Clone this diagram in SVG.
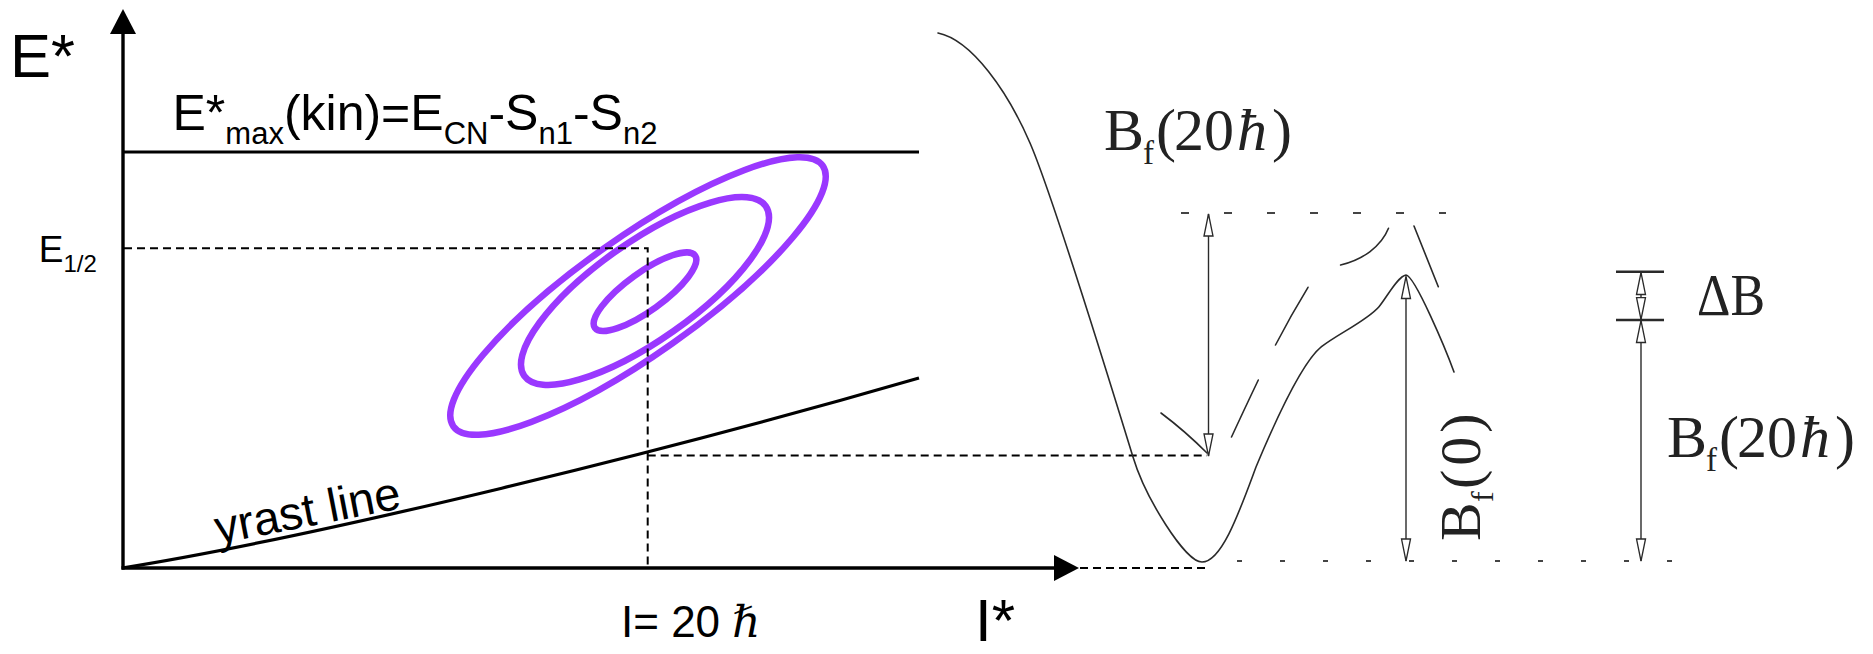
<svg xmlns="http://www.w3.org/2000/svg" width="1873" height="654" viewBox="0 0 1873 654">
<style>
.sans{font-family:"Liberation Sans",Arial,sans-serif;fill:#000}
.serif{font-family:"Liberation Serif","Times New Roman",serif;fill:#222}
.axis{stroke:#000;stroke-width:3.4;fill:none}
.thick{stroke:#000;stroke-width:3.2;fill:none}
.dash{stroke:#000;stroke-width:2;fill:none;stroke-dasharray:8 5}
.ell{fill:none;stroke:#9a38ff;stroke-width:6.5}
.scan{fill:none;stroke:#2a2a2a;stroke-width:1.6;stroke-linecap:round}
.dim{fill:none;stroke:#2a2a2a;stroke-width:1.4;marker-start:url(#oa);marker-end:url(#oa)}
</style>
<defs>
<marker id="oa" viewBox="0 0 24 12" refX="23" refY="6" markerWidth="24" markerHeight="12" markerUnits="userSpaceOnUse" orient="auto-start-reverse">
<path d="M1,1.5 L23,6 L1,10.5 Z" fill="#fff" stroke="#2a2a2a" stroke-width="1.3"/>
</marker>
</defs>
<rect width="1873" height="654" fill="#fff"/>

<g id="axes">
<path class="axis" d="M123,569.5 V32"/>
<polygon points="123,9 110,34 136,34" fill="#000"/>
<path class="axis" d="M121.5,568 H1056"/>
<polygon points="1079,568 1054,555 1054,581" fill="#000"/>
<text class="sans" x="10" y="77" font-size="61.5">E*</text>
<text class="sans" x="975" y="641" font-size="60">I*</text>
</g>

<g id="emax-line">
<path class="thick" d="M123,152 H919"/>
<text class="sans" x="172.5" y="130" font-size="50">E*<tspan font-size="31" dy="14">max</tspan><tspan dy="-14">(kin)=E</tspan><tspan font-size="31" dy="14">CN</tspan><tspan dy="-14">-S</tspan><tspan font-size="31" dy="14">n1</tspan><tspan dy="-14">-S</tspan><tspan font-size="31" dy="14">n2</tspan></text>
</g>

<g id="yrast">
<path class="thick" d="M122,568 C322,536 669,450.5 919,378"/>
<text class="sans" transform="translate(218,544) rotate(-11)" font-size="47">yrast line</text>
</g>

<g id="ellipses">
<ellipse class="ell" cx="638" cy="296" rx="226" ry="58.6" transform="rotate(-35.2 638 296)"/>
<ellipse class="ell" cx="645" cy="291" rx="147.6" ry="49.2" transform="rotate(-35.1 645 291)"/>
<ellipse class="ell" cx="645" cy="291.7" rx="61.8" ry="19" transform="rotate(-35.8 645 291.7)"/>
</g>

<g id="guides">
<path class="dash" d="M124,248.3 H647.7 V567"/>
<path class="dash" d="M647.7,455.5 H1207"/>
<path class="dash" d="M1080,568 H1208"/>
<text class="sans" x="38.8" y="262" font-size="37">E<tspan font-size="24" dy="10">1/2</tspan></text>
<text class="sans" x="621" y="637" font-size="44">I= 20 <tspan font-family="'DejaVu Serif',serif" font-style="italic">ℏ</tspan></text>
</g>

<g id="potential">
<path class="scan" d="M938,33 C972,40 1008,92 1030,143 C1050,189 1113,392 1133,457 C1145,497 1185,562 1202,562 C1222,562 1240,510 1256,467 C1274,424 1301.5,362.7 1321.5,346.7 C1337.5,334 1367,320.7 1379,306.7 C1387,297 1398,276 1406,275 C1415,276 1446,350 1454,372"/>
<path class="scan" d="M1161,413 Q1185,431 1207,453"/>
<path class="scan" d="M1231.5,437 Q1244,410 1258.3,380"/>
<path class="scan" d="M1275.5,345 Q1291,315 1308,287.3"/>
<path class="scan" d="M1340.6,265 C1362,260 1381,247 1388.5,228.3"/>
<path class="scan" d="M1414,226 L1438.3,286.7"/>
<path fill="none" stroke="#444" stroke-width="2" stroke-dasharray="8 35" d="M1181,213 H1446"/>
<path fill="none" stroke="#444" stroke-width="2.2" stroke-dasharray="5 38" d="M1237,561 H1674"/>
</g>

<g id="dimensions">
<path class="dim" d="M1208.5,214 V456"/>
<path class="dim" d="M1406,276.5 V561"/>
<path class="dim" d="M1641,272.5 V319.5"/>
<path class="dim" d="M1641,320.5 V561"/>
<path fill="none" stroke="#2a2a2a" stroke-width="2.6" d="M1616,271.7 H1664 M1616,320 H1664"/>
<text class="serif" x="1104" y="150" font-size="60">B<tspan x="1143" font-size="33" dy="14">f</tspan><tspan x="1156" dy="-14">(</tspan><tspan x="1174">20</tspan><tspan x="1237" font-style="italic">ħ</tspan><tspan x="1272">)</tspan></text>
<text class="serif" x="1667" y="456.7" font-size="60">B<tspan x="1706" font-size="33" dy="14">f</tspan><tspan x="1719" dy="-14">(</tspan><tspan x="1737">20</tspan><tspan x="1800" font-style="italic">ħ</tspan><tspan x="1835">)</tspan></text>
<text class="serif" x="1697" y="315" font-size="60" textLength="68" lengthAdjust="spacingAndGlyphs">ΔB</text>
<text class="serif" transform="translate(1480,541) rotate(-90)" font-size="58">B<tspan x="39" font-size="32" dy="13">f</tspan><tspan x="52" dy="-13" letter-spacing="4">(0)</tspan></text>
</g>
</svg>
